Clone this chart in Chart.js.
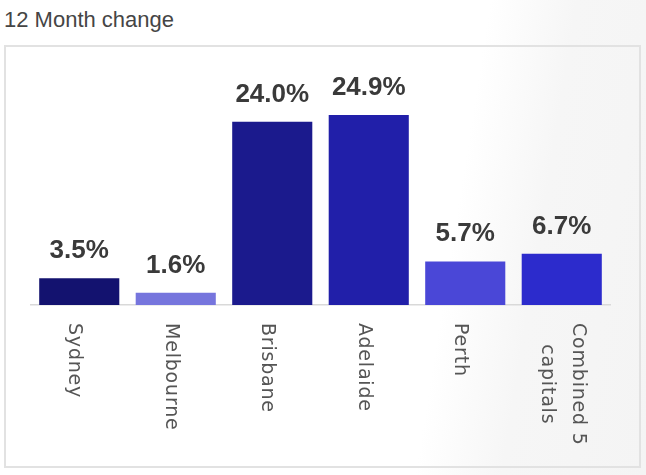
<!doctype html>
<html>
  <head>
    <title>12 Month change</title>
    <script src="https://cdn.jsdelivr.net/npm/chart.js@4"></script>
    <style>
      body { margin:0; width:646px; height:475px; overflow:hidden; position:relative;
             background: linear-gradient(99deg, #ffffff 0%, #ffffff 68%, #f6f6f6 80%, #f4f4f4 100%); }
      #titel { position:absolute; left:4px; top:9px; font: 22px "Liberation Sans", Arial, sans-serif; line-height:22px; color:#454545; }
      #kast { position:absolute; left:4px; top:45px; width:633px; height:419px; border:2px solid #e2e2e2; }
      #joonisekiht { position:absolute; left:0; top:0; }
    </style>
  </head>
  <body>
    <div id="titel">12 Month change</div>
    <div id="kast"></div>
    <canvas id="joonisekiht" width="646" height="475"></canvas>
    <script>
      // andmed
      let linnad = [["Sydney"], ["Melbourne"], ["Brisbane"], ["Adelaide"], ["Perth"], ["Combined 5", "capitals"]];
      let muutus = [3.5, 1.6, 24.0, 24.9, 5.7, 6.7];
      let sildid = ["3.5%", "1.6%", "24.0%", "24.9%", "5.7%", "6.7%"];
      let varvid = ["#13126f", "#7675dd", "#1b1a8d", "#211fa9", "#4a47d7", "#2c2bcc"];

      // vaartused tulpade kohale ja linnade nimed pooratult
      let kirjad = {
        id: 'kirjad',
        afterDatasetsDraw(chart) {
          let ctx = chart.ctx;
          let meta = chart.getDatasetMeta(0);
          ctx.save();
          ctx.fillStyle = "#3a3a3a";
          ctx.font = "bold 26px 'Liberation Sans', Arial, sans-serif";
          ctx.textAlign = "center";
          ctx.textBaseline = "alphabetic";
          meta.data.forEach((tulp, i) => {
            ctx.fillText(sildid[i], tulp.x, tulp.y - 20);
          });
          ctx.restore();

          let x = chart.scales.x;
          ctx.save();
          ctx.fillStyle = "#555555";
          ctx.font = "19px 'DejaVu Sans', sans-serif";
          ctx.letterSpacing = "0.8px";
          ctx.textAlign = "left";
          ctx.textBaseline = "alphabetic";
          linnad.forEach((read, i) => {
            let px = x.getPixelForValue(i);
            ctx.save();
            ctx.translate(px, chart.chartArea.bottom + 18);
            ctx.rotate(Math.PI / 2);
            if (read.length == 1) {
              ctx.fillText(read[0], 0, 10);
            } else {
              // mitmerealine silt on keskele joondatud
              let w1 = ctx.measureText(read[0]).width;
              let w2 = ctx.measureText(read[1]).width;
              ctx.fillText(read[0], 0, -11.5);
              ctx.fillText(read[1], (w1 - w2) / 2, 20);
            }
            ctx.restore();
          });
          ctx.restore();
        }
      };

      let joonis = new Chart(document.getElementById("joonisekiht"), {
        type: 'bar',
        data: {
          labels: linnad,
          datasets: [{
            data: muutus,
            backgroundColor: varvid,
            categoryPercentage: 1,
            barPercentage: 0.83
          }]
        },
        options: {
          responsive: false,
          animation: false,
          devicePixelRatio: 1,
          layout: { padding: { left: 31, right: 36, top: 76, bottom: 170 } },
          plugins: { legend: { display: false }, tooltip: { enabled: false } },
          scales: {
            x: {
              ticks: { display: false },
              grid: { display: false, drawTicks: false },
              border: { display: true, color: "#d9d9d9", width: 1.5 },
              afterFit: s => { s.height = 0; }
            },
            y: { display: false, min: 0, max: 30 }
          }
        },
        plugins: [kirjad]
      });
    </script>
  </body>
</html>
